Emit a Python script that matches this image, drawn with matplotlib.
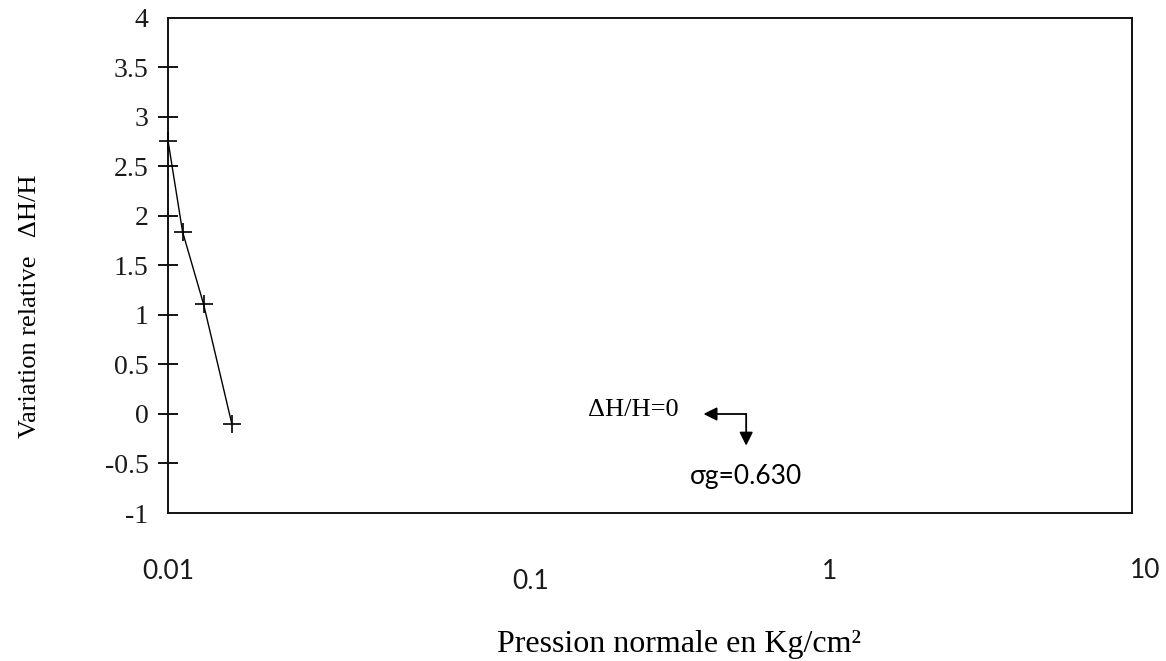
import matplotlib
matplotlib.use("Agg")
import matplotlib.pyplot as plt
from matplotlib.transforms import ScaledTranslation

# Relative height change versus normal pressure (log scale)
pressure = [0.0100, 0.0111, 0.0129, 0.0158]
dh_h = [2.76, 1.84, 1.11, -0.10]

x_ticks = [0.01, 0.1, 1, 10]
x_tick_labels = ["0.01", "0.1", "1", "10"]
y_ticks = [-1, -0.5, 0, 0.5, 1, 1.5, 2, 2.5, 3, 3.5, 4]
y_tick_labels = ["-1", "-0.5", "0", "0.5", "1", "1.5", "2", "2.5", "3", "3.5", "4"]

sigma_g = 0.630
dh_zero = 0.0

SERIF = ["Liberation Serif", "DejaVu Serif"]
SANS = ["Lato", "DejaVu Sans"]

fig = plt.figure(figsize=(11.66, 6.61), dpi=100)
ax = fig.add_axes([0.1441, 0.2239, 0.8267, 0.7489])

ax.plot(pressure, dh_h, color="black", lw=1.0, marker="+",
        markersize=13, markeredgewidth=1.2, zorder=3, clip_on=False)

ax.set_xscale("log")
ax.set_xlim(0.01, 10)
ax.set_ylim(-1, 4)

for s in ax.spines.values():
    s.set_linewidth(1.4)
    s.set_color("#111111")

# y axis: ticks crossing the spine, serif labels
ax.set_yticks(y_ticks)
ax.set_yticklabels(y_tick_labels, family=SERIF, fontsize=20, color="#1a1a1a")
ax.tick_params(axis="y", direction="inout", length=14, width=1.3, pad=7)
for t in (ax.yaxis.get_major_ticks()[0], ax.yaxis.get_major_ticks()[-1]):
    t.tick1line.set_visible(False)

# x axis: decade labels only, no tick marks
ax.set_xticks(x_ticks)
ax.set_xticklabels(x_tick_labels, family=SANS, fontsize=19, color="#1a1a1a")
ax.xaxis.set_minor_locator(matplotlib.ticker.NullLocator())
ax.tick_params(axis="x", length=0, pad=33)
shifts = [(0, 0), (41, -10), (19, 0), (13, 1)]
for lab, (dx, dy) in zip(ax.get_xticklabels(), shifts):
    lab.set_transform(lab.get_transform() +
                      ScaledTranslation(dx / 100, dy / 100, fig.dpi_scale_trans))

ax.set_xlabel("Pression normale en Kg/cm²", family=SERIF, fontsize=23)
ax.xaxis.set_label_coords(0.53, -0.236)
ax.set_ylabel("Variation relative   ΔH/H", family=SERIF, fontsize=19)
ax.yaxis.set_label_coords(-0.132, 0.417)

# Arrows marking the point where the relative change vanishes
arrow_kw = dict(arrowstyle="-|>", color="black", lw=1.3,
                mutation_scale=20, shrinkA=0, shrinkB=0)
left_tip = (0.464, dh_zero)
down_tip = (sigma_g, dh_zero - 0.32)
ax.annotate("", xy=left_tip, xytext=(sigma_g, dh_zero), arrowprops=arrow_kw)
ax.annotate("", xy=down_tip, xytext=(sigma_g, dh_zero), arrowprops=arrow_kw)

ax.annotate("ΔH/H=0", xy=left_tip, xytext=(-25, 4), textcoords="offset pixels",
            ha="right", va="center", family=SERIF, fontsize=19)
ax.annotate(f"σg={sigma_g:.3f}", xy=down_tip, xytext=(0, -31),
            textcoords="offset pixels", ha="center", va="center",
            family=SANS, fontsize=19)

fig.savefig("out.png", dpi=100)
